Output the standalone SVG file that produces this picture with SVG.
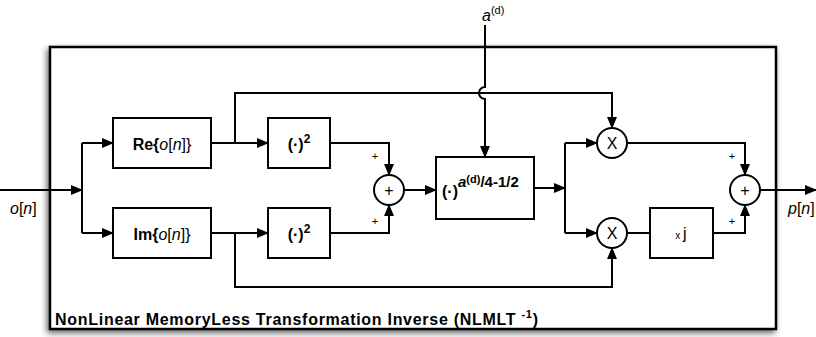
<svg xmlns="http://www.w3.org/2000/svg" width="816" height="337" viewBox="0 0 816 337">
<defs>
<marker id="ah" markerWidth="12" markerHeight="10" refX="11" refY="5" orient="auto" markerUnits="userSpaceOnUse">
<path d="M0,0 L12,5 L0,10 z" fill="#000"/>
</marker>
<filter id="sh" x="-5%" y="-5%" width="110%" height="115%">
<feGaussianBlur in="SourceAlpha" stdDeviation="3"/>
<feOffset dx="-2" dy="3" result="b"/>
<feComponentTransfer><feFuncA type="linear" slope="0.6"/></feComponentTransfer>
<feMerge><feMergeNode/><feMergeNode in="SourceGraphic"/></feMerge>
</filter>
</defs>
<style>
.box{fill:#fff;stroke:#000;stroke-width:2}
.ln{fill:none;stroke:#000;stroke-width:2}
.ar{fill:none;stroke:#000;stroke-width:2;marker-end:url(#ah)}
.t{font-family:"Liberation Sans",Arial,sans-serif;font-size:16px;fill:#000}
.b{font-weight:bold}
.i{font-style:italic}
.pl{font-family:"Liberation Sans",Arial,sans-serif;font-size:11px;fill:#000}
</style>
<rect width="816" height="337" fill="#fff"/>
<g id="frame">
<rect x="50" y="47" width="726" height="282" fill="#fff" stroke="#000" stroke-width="2.5" filter="url(#sh)"/>
<text class="t b" x="55" y="325" font-size="17" textLength="483" lengthAdjust="spacing">NonLinear MemoryLess Transformation Inverse (NLMLT <tspan font-size="11" dy="-7">-1</tspan><tspan dy="7">)</tspan></text>
</g>
<g id="connectors">
<path class="ar" d="M0 190 H82"/>
<path class="ln" d="M82 143 V233"/>
<path class="ar" d="M82 143 H113"/>
<path class="ar" d="M82 233 H113"/>
<path class="ar" d="M211 143 H268"/>
<path class="ar" d="M235 143 V93 H612 V128"/>
<path class="ar" d="M211 233 H268"/>
<path class="ar" d="M235 233 V287 H612 V248"/>
<path class="ar" d="M330 143 H389 V175"/>
<path class="ar" d="M330 233 H389 V205"/>
<path class="ar" d="M404 190 H436"/>
<path class="ar" d="M485 25 V87 A6 6 0 0 0 485 99 V157"/>
<path class="ar" d="M534 188 H565"/>
<path class="ln" d="M565 143 V233"/>
<path class="ar" d="M565 143 H597"/>
<path class="ar" d="M565 233 H597"/>
<path class="ar" d="M627 143 H745 V175"/>
<path class="ln" d="M627 233 H650"/>
<path class="ar" d="M713 233 H745 V205"/>
<path class="ar" d="M760 190 H816"/>
</g>
<g id="input-label"><text class="t i" x="10" y="214">o<tspan font-style="normal">[</tspan>n<tspan font-style="normal">]</tspan></text></g>
<g id="output-label"><text class="t i" x="788" y="214">p<tspan font-style="normal">[</tspan>n<tspan font-style="normal">]</tspan></text></g>
<g id="a-label"><text class="t i" x="482" y="21">a<tspan font-style="normal" font-size="11" dy="-7">(d)</tspan></text></g>
<g id="re">
<rect class="box" x="113" y="118" width="98" height="50"/>
<text class="t" x="162" y="150" text-anchor="middle"><tspan class="b">Re{</tspan><tspan class="i">o</tspan>[<tspan class="i">n</tspan>]}</text>
</g>
<g id="im">
<rect class="box" x="113" y="208" width="98" height="50"/>
<text class="t" x="162" y="240" text-anchor="middle"><tspan class="b">Im{</tspan><tspan class="i">o</tspan>[<tspan class="i">n</tspan>]}</text>
</g>
<g id="sq1">
<rect class="box" x="268" y="118" width="62" height="50"/>
<text class="t b" x="299" y="150" text-anchor="middle">(·)<tspan font-size="12" dy="-7">2</tspan></text>
</g>
<g id="sq2">
<rect class="box" x="268" y="208" width="62" height="50"/>
<text class="t b" x="299" y="240" text-anchor="middle">(·)<tspan font-size="12" dy="-7">2</tspan></text>
</g>
<g id="sum1">
<circle class="box" cx="389" cy="190" r="15"/>
<text class="t" x="389" y="196" text-anchor="middle">+</text>
<text class="pl" x="375" y="160" text-anchor="middle">+</text>
<text class="pl" x="375" y="225" text-anchor="middle">+</text>
</g>
<g id="power">
<rect class="box" x="436" y="157" width="98" height="62"/>
<text class="t b" x="442" y="197" font-size="17">(·)<tspan font-size="15" dy="-10"><tspan class="i">a</tspan><tspan font-size="11" dy="-4">(d)</tspan><tspan dy="4">/4-1/2</tspan></tspan></text>
</g>
<g id="mul1">
<circle class="box" cx="612" cy="143" r="15"/>
<text class="t" x="612" y="149" text-anchor="middle" font-size="15">X</text>
</g>
<g id="mul2">
<circle class="box" cx="612" cy="233" r="15"/>
<text class="t" x="612" y="239" text-anchor="middle" font-size="15">X</text>
</g>
<g id="xj">
<rect class="box" x="650" y="208" width="63" height="50"/>
<text class="t" x="681" y="239" text-anchor="middle"><tspan font-size="10">x </tspan>j</text>
</g>
<g id="sum2">
<circle class="box" cx="745" cy="190" r="15"/>
<text class="t" x="745" y="196" text-anchor="middle">+</text>
<text class="pl" x="732" y="160" text-anchor="middle">+</text>
<text class="pl" x="732" y="225" text-anchor="middle">+</text>
</g>
</svg>
